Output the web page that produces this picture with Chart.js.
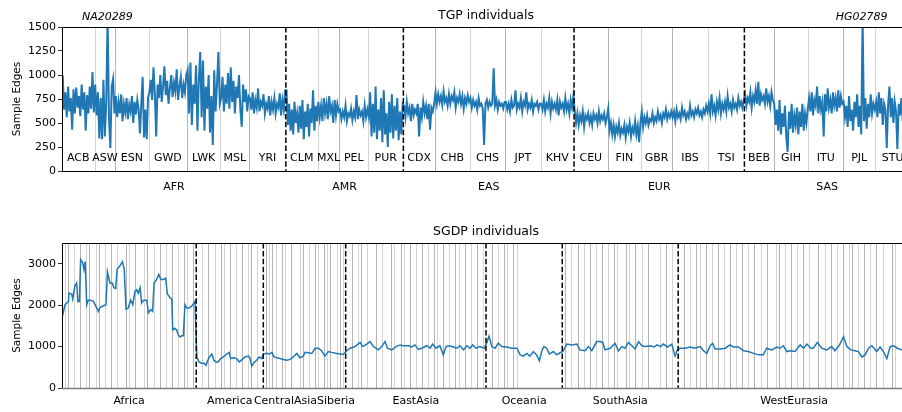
<!DOCTYPE html>
<html lang="en">
<head>
<meta charset="utf-8">
<title>Sample edges per individual</title>
<script src="https://cdn.jsdelivr.net/npm/chart.js@4"></script>
<style>
  html, body { margin: 0; padding: 0; background: #fff; overflow: hidden; width: 902px; height: 412px; }
  canvas { position: absolute; left: 0; top: 0; }
</style>
</head>
<body>
<canvas id="tgp" width="912" height="412"></canvas>
<canvas id="sgdp" width="912" height="412"></canvas>
<script>
// ---- TGP (1000 Genomes) panel ----
const tgpPops = ['ACB','ASW','ESN','GWD','LWK','MSL','YRI',
                 'CLM','MXL','PEL','PUR',
                 'CDX','CHB','CHS','JPT','KHV',
                 'CEU','FIN','GBR','IBS','TSI',
                 'BEB','GIH','ITU','PJL','STU'];
const tgpPopSizes = [96,61,99,113,99,85,108, 94,64,85,104, 93,103,105,104,99, 99,99,91,107,107, 86,103,102,96,102];
const tgpSuperPops = ['AFR','AMR','EAS','EUR','SAS'];
const tgpSuperCounts = [7,4,5,5,5]; // populations in each super population
const tgpYTicks = [0,250,500,750,1000,1250,1500];
const tgpMarked = [['NA20289', 134], ['HG02789', 2361]];

// sample edges, read along each population (evenly spread inside it)
const tgpEdges = [
  [1000,640,820,560,880,620,760,430,850,600,870,660,780,570,900,640,820,420,790,600,880,650,1030,610], // ACB
  [900,580,820,340,760,330,950,360,700,1600,560,240,880,960,600], // ASW
  [780,560,720,600,800,520,700,610,760,540,690,620,780,500,720,590,740,640,390,700,980,350,640,330,760], // ESN
  [820,950,740,1080,800,360,900,760,1000,720,880,1090,790,940,700,860,1000,770,920,830,1060,740,880,980,760,900,820,1000], // GWD
  [1050,600,1130,480,900,700,1100,420,950,1240,560,1150,420,880,650,1000,400,780,270,1050,620,900,1240,700], // LWK
  [760,980,620,900,700,1020,650,1080,720,940,600,880,760,1000,640,460,900,720,850,620,780], // MSL
  [760,640,820,600,740,660,860,620,720,680,800,600,700,650,780,580,720,640,760,600,700,660,810,580,740,640,840], // YRI
  [840,480,700,420,640,380,720,500,600,400,680,440,740,330,620,460,700,360,650,500,840,420,680,520], // CLM
  [720,560,680,520,760,600,700,540,780,620,680,500,740,580,700,620], // MXL
  [640,540,620,560,680,520,600,570,650,530,620,560,790,540,640,580,620,520,680,560,640], // PEL
  [560,820,360,700,400,880,330,640,420,760,300,840,380,600,250,720,400,800,340,680,420,760,320,620,380,700], // PUR
  [680,560,720,600,660,520,700,580,640,600,700,360,660,560,720,600,680,540,700,430,660,620,700], // CDX
  [820,700,800,720,780,690,830,720,760,680,800,700,780,740,820,660,760,720,800,700,780,650,760,700,790,720], // CHB
  [760,660,740,680,720,640,760,680,700,650,270,700,740,660,720,680,700,1070,680,740,640,720,680,700,650,720], // CHS
  [720,640,700,620,740,660,680,840,640,700,660,760,620,720,680,820,640,700,660,740,620,700,680,720,640,700], // JPT
  [700,640,740,620,700,660,760,600,720,650,700,640,740,580,720,660,700,620,760,640,700,600,740,660,780], // KHV
  [620,500,600,480,580,520,620,460,580,540,600,500,570,480,600,540,580,500,620,520,580,540,600,500,560], // CEU
  [650,420,500,380,480,360,460,400,500,370,440,400,480,350,460,410,500,360,450,400,520,380,470,300,500], // FIN
  [620,460,560,500,580,480,540,520,600,500,560,520,620,540,580,500,600,560,640,540,600,560,620], // GBR
  [560,620,520,640,560,600,540,660,580,620,540,600,560,680,580,620,560,640,600,660,580,620,560,640,600,680,620], // IBS
  [700,600,800,620,680,580,720,640,760,600,700,640,720,620,780,660,700,620,740,660,700,640,760,680,720,660,740], // TSI
  [800,680,760,720,820,660,780,720,840,700,930,680,800,740,780,700,860,720,780,680,820,740], // BEB
  [700,480,640,420,740,380,600,460,680,360,200,620,440,700,400,580,480,660,380,620,460,700,420,600,500,640], // GIH
  [760,620,820,580,740,680,880,600,780,640,720,360,800,620,860,660,740,600,820,680,760,620,840,660,780,700], // ITU
  [720,560,680,460,780,520,640,420,720,560,800,460,680,380,1600,520,760,440,700,560,800,600,700,640], // PJL
  [720,560,820,600,760,480,700,640,240,680,880,560,760,500,720,620,230,700,580,760,520,700,640,780,600,720]  // STU
];

// ---- SGDP panel ----
const sgdpRegions = ['Africa','America','CentralAsiaSiberia','EastAsia','Oceania','SouthAsia','WestEurasia'];
const sgdpRegionEnds = [44,66,93,139,164,202,278];
const sgdpPopBounds = [1,2,4,6,8,9,11,12,14,16,18,21,22,24,27,28,30,32,34,36,38,40,41,43,
  46,48,50,52,53,55,57,59,61,62,64,
  67,68,69,70,72,73,75,78,79,81,83,84,86,87,88,90,91,92,
  95,97,98,100,103,105,108,109,111,112,114,116,118,120,122,123,125,127,129,130,132,134,136,138,
  141,143,145,146,148,149,
  165,167,169,171,173,175,177,179,181,182,185,186,188,190,192,196,198,200,
  204,206,208,209,211,213,215,217,219,221,223,225,227,229,231,234,235,237,239,241,243,245,248,250,252,254,256,258,259,261,263,265,267,269,272,273];
const sgdpYTicks = [0,1000,2000,3000];
// [sample position, sample edges]
const sgdpTrace = [
  [0.1,1725],[1.0,2010],[2.1,2090],[2.3,2290],[3.2,2260],[3.5,2150],[4.2,2455],[4.8,2535],[5.2,2090],[5.7,2090],
  [6.1,3100],[6.8,3020],[7.2,2860],[7.6,3050],[8.1,2010],[8.6,2120],[9.4,2120],[10.3,2090],[11.4,1930],[11.9,1850],
  [12.5,1950],[13.5,1980],[14.4,2010],[14.9,2800],[15.7,2535],[16.5,2535],[17.0,2420],[17.6,2400],[18.1,2870],[19.0,2950],
  [19.8,3050],[20.4,2870],[21.0,1900],[21.7,1930],[22.5,2120],[23.2,2010],[23.9,2330],[24.5,2370],[25.0,2290],[25.6,2420],
  [26.1,2050],[26.7,2120],[27.8,2120],[28.3,1810],[29.1,1890],[29.7,1850],[30.2,2535],[31.0,2620],[31.7,2740],[32.4,2620],
  [33.2,2620],[34.0,2650],[34.5,2280],[35.4,2180],[36.0,2150],[36.3,1400],[37.0,1440],[37.6,1400],[38.1,1280],[38.7,1230],
  [39.2,1260],[39.8,1260],[40.3,2010],[40.9,1930],[41.7,1930],[42.6,1980],[43.6,2090],[44.2,750],[44.9,630],[45.8,600],
  [46.6,600],[47.2,550],[47.6,630],[48.3,750],[49.1,820],[49.8,670],[50.5,630],[51.2,630],[52.0,710],[52.9,750],
  [54.0,820],[54.8,860],[55.3,710],[56.2,730],[57.3,710],[58.1,630],[59.1,690],[60.0,750],[61.1,770],[61.6,730],
  [62.2,530],[63.0,620],[63.8,670],[64.7,750],[65.5,710],[66.0,820],[67.1,840],[68.0,820],[68.8,860],[69.5,750],
  [70.4,730],[71.5,710],[72.6,690],[73.7,670],[74.8,690],[75.8,750],[77.0,835],[78.0,730],[79.1,770],[79.7,860],
  [80.8,850],[81.9,835],[83.0,960],[84.0,960],[85.1,900],[86.2,770],[87.3,880],[88.4,860],[90.1,835],[92.2,810],
  [93.1,880],[94.4,960],[96.1,1000],[97.7,1100],[98.6,1000],[99.9,1060],[101.0,1120],[102.1,1000],[103.7,920],[104.8,1000],
  [105.9,1120],[106.7,960],[108.1,920],[109.5,1000],[110.8,1040],[111.9,1020],[113.5,1020],[114.7,990],[115.7,1040],[116.8,930],
  [117.9,960],[119.6,1020],[120.7,960],[121.5,1060],[122.6,960],[123.9,1020],[125.0,800],[125.9,1000],[127.0,1020],[128.3,990],
  [129.4,960],[130.5,1020],[131.6,920],[132.7,1020],[133.8,960],[134.6,1040],[135.7,960],[137.0,1000],[138.4,960],[139.2,1080],
  [140.0,1255],[140.9,1000],[142.0,960],[143.0,1080],[144.2,1000],[145.8,990],[147.4,960],[149.1,960],[150.2,800],[151.2,770],
  [152.4,835],[153.4,770],[154.5,880],[155.6,800],[156.5,660],[157.3,900],[158.0,1000],[158.9,960],[159.8,820],[161.1,880],
  [162.2,800],[163.3,850],[164.2,880],[165.5,1060],[167.1,1040],[168.8,1060],[169.8,920],[171.5,900],[172.6,1000],[173.7,900],
  [175.3,1120],[176.4,1120],[177.3,1100],[178.0,920],[179.7,960],[181.3,1080],[182.4,900],[183.5,1000],[184.6,960],[185.7,1100],
  [186.8,1020],[187.9,940],[189.0,1120],[190.1,1020],[191.1,1000],[192.8,1020],[194.1,990],[195.0,1040],[196.3,1000],[197.1,1060],
  [198.5,990],[199.9,1060],[201.0,770],[201.7,920],[202.6,960],[204.3,960],[205.9,990],[207.5,960],[209.2,1000],[210.3,900],
  [211.4,835],[212.5,1020],[213.3,1080],[214.1,940],[215.7,940],[217.4,960],[219.0,1040],[220.1,990],[221.7,990],[223.4,900],
  [225.0,880],[226.7,835],[228.3,800],[229.9,800],[231.0,960],[232.7,920],[234.3,990],[235.4,960],[236.5,1020],[237.6,880],
  [238.7,900],[240.3,880],[242.0,1040],[243.1,960],[244.2,1060],[245.5,960],[246.3,960],[247.6,1100],[249.1,960],[250.7,920],
  [252.3,1000],[253.4,900],[254.9,1040],[256.2,1240],[257.3,1000],[258.6,920],[259.9,900],[261.1,880],[262.2,750],[263.3,800],
  [264.4,960],[265.5,1020],[267.1,880],[268.2,990],[269.3,880],[270.4,710],[271.5,1000],[272.6,1020],[273.9,960],[275.3,920],
  [278,900]
];

const FONT = "'DejaVu Sans', sans-serif";
const BLUE = '#1f77b4';
const LABEL_SIZE = 11;

function cumulative(sizes) {
  let s = 0;
  return sizes.map(n => (s += n));
}

// TGP derived positions
const tgpEnds = cumulative(tgpPopSizes);
const tgpStarts = tgpEnds.map((e, i) => e - tgpPopSizes[i]);
const tgpSuperEnds = cumulative(tgpSuperCounts).map(k => tgpEnds[k - 1]);
const tgpSuperStarts = [0, ...tgpSuperEnds.slice(0, -1)];
const tgpTotal = tgpEnds[tgpEnds.length - 1];

const tgpData = [];
tgpEdges.forEach((vals, p) => {
  const step = tgpPopSizes[p] / vals.length;
  vals.forEach((v, i) => tgpData.push({ x: tgpStarts[p] + (i + 0.5) * step, y: v }));
});

const sgdpRegionStarts = [0, ...sgdpRegionEnds.slice(0, -1)];
const sgdpTotal = sgdpRegionEnds[sgdpRegionEnds.length - 1];

// draws population separators, region dashes, frame and the labels
const decor = {
  id: 'decor',
  beforeDatasetsDraw(chart, args, o) {
    const { ctx, chartArea: a } = chart;
    const x = chart.scales.x;
    ctx.save();
    ctx.lineWidth = 1;
    o.thinLines.forEach((v, i) => {
      const px = Math.round(x.getPixelForValue(v)) + 0.5;
      ctx.strokeStyle = i % 2 ? '#b4b4b4' : '#d4d4d4';
      ctx.beginPath();
      ctx.moveTo(px, a.top);
      ctx.lineTo(px, a.bottom);
      ctx.stroke();
    });
    ctx.restore();
  },
  afterDatasetsDraw(chart, args, o) {
    const { ctx, chartArea: a } = chart;
    const x = chart.scales.x;
    ctx.save();
    ctx.strokeStyle = '#000';
    ctx.lineWidth = 1.5;
    ctx.setLineDash([5.5, 2.4]);
    o.dashLines.forEach(v => {
      const px = x.getPixelForValue(v);
      ctx.beginPath();
      ctx.moveTo(px, a.top);
      ctx.lineTo(px, a.bottom);
      ctx.stroke();
    });
    ctx.setLineDash([]);

    // spines
    ctx.lineWidth = 1;
    ctx.strokeStyle = '#000';
    ctx.beginPath();
    ctx.moveTo(a.left + 0.5, a.bottom);
    ctx.lineTo(a.left + 0.5, a.top + 0.5);
    ctx.lineTo(a.right, a.top + 0.5);
    ctx.stroke();
    ctx.strokeStyle = o.bottomColor;
    ctx.lineWidth = o.bottomWidth;
    ctx.beginPath();
    ctx.moveTo(a.left, a.bottom + 0.5);
    ctx.lineTo(a.right, a.bottom + 0.5);
    ctx.stroke();

    ctx.fillStyle = '#000';
    ctx.textAlign = 'center';
    ctx.textBaseline = 'middle';
    const mid = (s, e) => (x.getPixelForValue(s) + x.getPixelForValue(e)) / 2;

    ctx.font = `12.5px ${FONT}`;
    ctx.fillText(o.title, (a.left + a.right) / 2, a.top - 11);

    ctx.font = `${LABEL_SIZE}px ${FONT}`;
    (o.inner || []).forEach(l => ctx.fillText(l.text, mid(l.start, l.end), a.bottom - 13));
    o.below.forEach(l => ctx.fillText(l.text, mid(l.start, l.end), a.bottom + o.belowOffset));

    ctx.font = `italic ${LABEL_SIZE}px ${FONT}`;
    (o.marks || []).forEach(m => ctx.fillText(m[0], x.getPixelForValue(m[1]), a.top - 10));
    ctx.restore();
  }
};

function yAxis(max, ticks) {
  return {
    min: 0,
    max: max,
    afterBuildTicks: ax => { ax.ticks = ticks.map(v => ({ value: v })); },
    afterFit: ax => { ax.width = 62; },
    grid: { display: true, drawOnChartArea: false, drawTicks: true, tickLength: 4, color: '#000', lineWidth: 0.8 },
    border: { display: false },
    ticks: { color: '#000', font: { family: FONT, size: LABEL_SIZE }, padding: 2, callback: v => String(v) },
    title: { display: true, text: 'Sample Edges', color: '#000', font: { family: FONT, size: 10.5 }, padding: { top: 11, bottom: 0 } }
  };
}

function lineChart(id, data, width, xMax, yMax, yTicks, padding, decorOpts) {
  return new Chart(document.getElementById(id), {
    type: 'line',
    data: {
      datasets: [{
        data: data,
        borderColor: BLUE,
        borderWidth: width,
        pointRadius: 0,
        tension: 0,
        fill: false
      }]
    },
    options: {
      responsive: false,
      animation: false,
      layout: { padding: padding },
      scales: {
        x: { type: 'linear', min: 0, max: xMax, display: false },
        y: yAxis(yMax, yTicks)
      },
      plugins: {
        legend: { display: false },
        tooltip: { enabled: false },
        decor: decorOpts
      }
    },
    plugins: [decor]
  });
}

// top panel
lineChart('tgp', tgpData, 2, tgpTotal, 1500, tgpYTicks,
  { left: 0, top: 27, right: 2, bottom: 241 },
  {
    title: 'TGP individuals',
    thinLines: tgpEnds.slice(0, -1).filter(v => !tgpSuperEnds.includes(v)),
    dashLines: tgpSuperEnds.slice(0, -1),
    inner: tgpPops.map((p, i) => ({ text: p, start: tgpStarts[i], end: tgpEnds[i] })),
    below: tgpSuperPops.map((p, i) => ({ text: p, start: tgpSuperStarts[i], end: tgpSuperEnds[i] })),
    belowOffset: 16,
    marks: tgpMarked,
    bottomColor: '#000',
    bottomWidth: 1
  });

// bottom panel
lineChart('sgdp', sgdpTrace.map(p => ({ x: p[0], y: p[1] })), 1.5, sgdpTotal, 3500, sgdpYTicks,
  { left: 0, top: 243, right: 2, bottom: 24 },
  {
    title: 'SGDP individuals',
    thinLines: sgdpPopBounds,
    dashLines: sgdpRegionEnds.slice(0, -1),
    below: sgdpRegions.map((r, i) => ({ text: r, start: sgdpRegionStarts[i], end: sgdpRegionEnds[i] })),
    belowOffset: 13,
    bottomColor: '#808080',
    bottomWidth: 1.5
  });
</script>
</body>
</html>
